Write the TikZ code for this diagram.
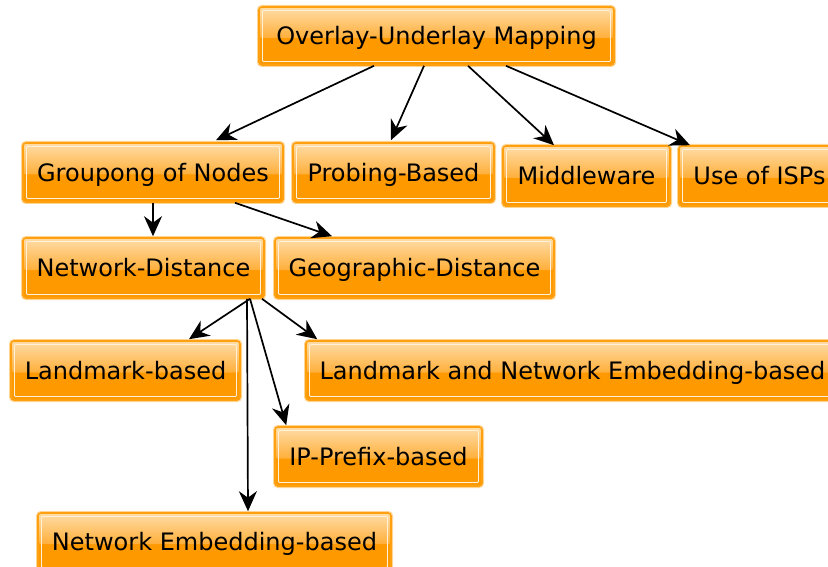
\documentclass[tikz,border=0pt]{standalone}
\usepackage{fontspec}
\setmainfont{DejaVu Sans}
\usetikzlibrary{arrows.meta}
\definecolor{boxlight}{HTML}{FFDDA8}
\definecolor{boxmid}{HTML}{FFAF3A}
\definecolor{boxor}{HTML}{FF9900}
\definecolor{boxedge}{HTML}{FFA010}
\definecolor{boxglow}{HTML}{FFD594}
\definecolor{boxinner}{HTML}{FFF0D8}
\tikzset{
  obox/.style={rectangle, rounded corners=3pt, minimum width=#1, inner sep=0pt,
    minimum height=59pt, text height=20.5pt, text depth=3pt,
    font=\fontsize{24}{28}\selectfont, text=black,
    preaction={draw=boxglow, line width=4pt},
    draw=boxedge, line width=1.6pt,
    path picture={
      \fill[boxor] (path picture bounding box.south west) rectangle (path picture bounding box.north east);
      \shade[top color=boxlight, bottom color=boxmid] (path picture bounding box.north west) rectangle ([yshift=-2pt]path picture bounding box.east);
      \draw[boxinner, line width=0.9pt, rounded corners=1pt]
        ([shift={(3.5pt,3.5pt)}]path picture bounding box.south west) rectangle
        ([shift={(-3.5pt,-3.5pt)}]path picture bounding box.north east);
    }},
  conn/.style={draw=black, line width=1.7pt, -{Stealth[length=20pt,width=18pt,inset=6.5pt]}},
}
\begin{document}
\begin{tikzpicture}[x=1pt,y=-1pt]
\clip (0,0) rectangle (828,567);
\fill[white] (0,0) rectangle (828,567);

\node[obox=355pt, minimum height=58pt] (ov)  at (436.5,36)  {Overlay-Underlay Mapping};
\node[obox=260pt] (gr)  at (153,172.5) {Groupong of Nodes};
\node[obox=201pt] (pr)  at (393.5,172.5) {Probing-Based};
\node[obox=167pt, minimum height=60pt] (mw)  at (586.5,176) {Middleware};
\node[obox=161pt, minimum height=60pt] (isp) at (759.5,176) {Use of ISPs};
\node[obox=241pt, minimum height=60pt] (nd)  at (143.5,268) {Network-Distance};
\node[obox=279pt, minimum height=60pt] (geo) at (414.5,268) {Geographic-Distance};
\node[obox=229pt] (lb)  at (125.5,370.5) {Landmark-based};
\node[obox=533pt] (lne) at (572.5,370.5) {Landmark and Network Embedding-based};
\node[obox=207pt] (ip)  at (378.5,456.5) {IP-Prefix-based};
\node[obox=353pt, minimum height=58pt] (neb) at (214.5,542) {Network Embedding-based};

\draw[conn] ([xshift=-62.5pt]ov.south) -- ([xshift=63pt,yshift=2pt]gr.north);
\draw[conn] ([xshift=-12.5pt]ov.south) -- ([xshift=-2.5pt,yshift=2pt]pr.north);
\draw[conn] ([xshift=31.5pt]ov.south) -- ([xshift=-32.5pt]mw.north);
\draw[conn] ([xshift=69.5pt]ov.south) -- ([xshift=-69.5pt]isp.north);
\draw[conn] ([xshift=0pt]gr.south) -- ([xshift=9.5pt,yshift=1pt]nd.north);
\draw[conn] ([xshift=82pt]gr.south) -- ([xshift=-82.5pt,yshift=1pt]geo.north);
\draw[conn] ([xshift=106.5pt]nd.south) -- ([xshift=63.5pt,yshift=1pt]lb.north);
\draw[conn] ([xshift=118.5pt]nd.south) -- ([xshift=12pt,yshift=1pt]lne.north west);
\draw[conn] ([xshift=106.5pt]nd.south) -- ([xshift=12pt,yshift=1pt]ip.north west);
\draw[conn] ([xshift=103.5pt]nd.south) -- ([xshift=33.5pt,yshift=1pt]neb.north);
\end{tikzpicture}
\end{document}
